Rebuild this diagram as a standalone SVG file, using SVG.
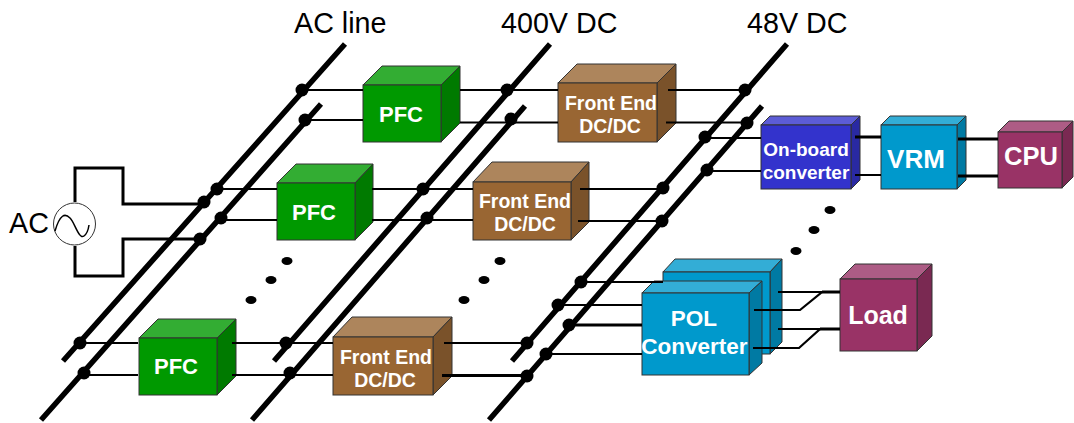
<svg xmlns="http://www.w3.org/2000/svg" width="1074" height="423" viewBox="0 0 1074 423">
<style>
.bus{stroke:#000;stroke-width:5.500;fill:none}
.w{stroke:#000;stroke-width:2.200;fill:none}
.t{stroke:#000;stroke-width:3.200;fill:none}
.s{stroke:#000;stroke-width:3;fill:none}
.box path,.box rect{stroke:#333;stroke-width:1}
.green .f{fill:#009900}.green .u{fill:#33AD33}.green .r{fill:#007A00}
.brown .f{fill:#996633}.brown .u{fill:#AD855C}.brown .r{fill:#7A522A}
.blue .f{fill:#3333CC}.blue .u{fill:#5C5CD6}.blue .r{fill:#2929A3}
.cyan .f{fill:#0099CC}.cyan .u{fill:#33ADD6}.cyan .r{fill:#007AA3}
.plum .f{fill:#993366}.plum .u{fill:#AD5C85}.plum .r{fill:#7A2952}
text{font-family:"Liberation Sans",Arial,sans-serif}
.lab{font-size:28.700px;fill:#000}
.b{font-weight:bold;fill:#fff;text-anchor:middle}
</style>
<rect width="1074" height="423" fill="#fff"/>
<g id="labels">
<text class="lab" x="294" y="33">AC line</text>
<text class="lab" x="501" y="33">400V DC</text>
<text class="lab" x="747" y="33">48V DC</text>
</g>
<g id="nodes">
<g id="pfc1" class="box green"><path class="u" d="M363 85L382 66H460L441 85Z"/><path class="r" d="M441 85L460 66V123L441 142Z"/><rect class="f" x="363" y="85" width="78" height="57"/><text class="b" x="401" y="122" font-size="22">PFC</text></g>
<g id="pfc2" class="box green"><path class="u" d="M277 183L296 164H373L355 183Z"/><path class="r" d="M355 183L373 164V222L355 240Z"/><rect class="f" x="277" y="183" width="78" height="57"/><text class="b" x="314" y="220" font-size="22">PFC</text></g>
<g id="pfc3" class="box green"><path class="u" d="M139 338L158 319H236L217 338Z"/><path class="r" d="M217 338L236 319V376L217 395Z"/><rect class="f" x="139" y="338" width="78" height="57"/><text class="b" x="176" y="374" font-size="22">PFC</text></g>
<g id="fe1" class="box brown"><path class="u" d="M558 83L577 64H676L657 83Z"/><path class="r" d="M657 83L676 64V123L657 142Z"/><rect class="f" x="558" y="83" width="99" height="59"/><text class="b" x="611" y="110" font-size="19.500">Front End</text><text class="b" x="610" y="133" font-size="19.500">DC/DC</text></g>
<g id="fe2" class="box brown"><path class="u" d="M473 182L492 162H589L571 182Z"/><path class="r" d="M571 182L589 162V222L571 240Z"/><rect class="f" x="473" y="182" width="98" height="58"/><text class="b" x="525" y="208" font-size="19.500">Front End</text><text class="b" x="525" y="231" font-size="19.500">DC/DC</text></g>
<g id="fe3" class="box brown"><path class="u" d="M333 337L352 317H452L433 337Z"/><path class="r" d="M433 337L452 317V376L433 395Z"/><rect class="f" x="333" y="337" width="100" height="58"/><text class="b" x="386" y="364" font-size="19.500">Front End</text><text class="b" x="385" y="387" font-size="19.500">DC/DC</text></g>
<g id="onboard" class="box blue"><path class="u" d="M761 125L770 116H860L851 125Z"/><path class="r" d="M851 125L860 116V180L851 189Z"/><rect class="f" x="761" y="125" width="90" height="64"/><text class="b" x="806" y="156" font-size="19">On-board</text><text class="b" x="806" y="179" font-size="19">converter</text></g>
<g id="vrm" class="box cyan"><path class="u" d="M881 125L890 116H966L957 125Z"/><path class="r" d="M957 125L966 116V180L957 189Z"/><rect class="f" x="881" y="125" width="76" height="64"/><text class="b" x="916" y="168" font-size="26">VRM</text></g>
<g id="cpu" class="box plum"><path class="u" d="M998 132L1009 121H1073L1062 132Z"/><path class="r" d="M1062 132L1073 121V177L1062 188Z"/><rect class="f" x="998" y="132" width="64" height="56"/><text class="b" x="1031" y="165" font-size="25.500">CPU</text></g>
<g id="pol-back" class="box cyan"><path class="u" d="M663 272L675 259H782L770 272Z"/><path class="r" d="M770 272L782 259V342L770 354Z"/><rect class="f" x="663" y="272" width="107" height="82"/></g>
<g id="pol" class="box cyan"><path class="u" d="M642 293L654 281H762L749 293Z"/><path class="r" d="M749 293L762 281V363L749 375Z"/><rect class="f" x="642" y="293" width="107" height="82"/><text class="b" x="694" y="326" font-size="22.500">POL</text><text class="b" x="694.500" y="354" font-size="22.500">Converter</text></g>
<g id="load" class="box plum"><path class="u" d="M840 279L855 264H932L917 279Z"/><path class="r" d="M917 279L932 264V336L917 351Z"/><rect class="f" x="840" y="279" width="77" height="72"/><text class="b" x="878" y="324" font-size="25">Load</text></g>
<g id="ac-source"><circle cx="74.500" cy="224" r="21" fill="#fff" stroke="#333" stroke-width="1"/><path d="M55 231C60 214 65 213 70 218S79 240 84 236C86 234.500 88 232 89 225" fill="none" stroke="#000" stroke-width="1.500"/><text class="lab" x="9" y="233">AC</text></g>
</g>
<g id="connectors">
<path class="bus" d="M345 44L63 361M321 104L41 420M550 44L274 361M525 106L252 420M787 44L512 361M762 106L489 420"/>
<path class="s" d="M75 202V168H123V204H204M75 246V276H123V239H200"/>
<path class="w" d="M302 90H363M305 120H363M460 90H558M460 122.500H558M668 90H745M666 122.500H747"/>
<path class="w" d="M217 189H277M372 189H473M580 189H663M578 221H662M221 220H277M372 220H473"/>
<path class="w" d="M80 343H138M232 343H333M444 343H527M84 375H138M232 375H333"/>
<path class="t" d="M442 375.500H527"/>
<path class="w" d="M705 138H761M707 171H761M581 282H663M558 305H642M546 354H642"/>
<path class="t" d="M569 325H642M855 137H881M958 139H998M958 176H998"/>
<path class="w" d="M855 175H881M778 292H822L800 310H754M778 329H820L799 348H753"/>
<path class="t" d="M822 292H840M820 329H840"/>
<g fill="#000">
<circle cx="302" cy="90" r="6.500"/><circle cx="305" cy="120" r="6.500"/><circle cx="507" cy="90" r="6.500"/><circle cx="511" cy="119" r="6.500"/><circle cx="745" cy="90" r="6.500"/><circle cx="747" cy="123" r="6.500"/>
<circle cx="217" cy="189" r="6.500"/><circle cx="204" cy="202" r="6.500"/><circle cx="221" cy="218" r="6.500"/><circle cx="200" cy="239" r="6.500"/><circle cx="423" cy="189" r="6.500"/><circle cx="427" cy="218" r="6.500"/><circle cx="663" cy="188" r="6.500"/><circle cx="662" cy="221" r="6.500"/>
<circle cx="705" cy="137" r="6.500"/><circle cx="707" cy="170" r="6.500"/><circle cx="581" cy="282" r="6.500"/><circle cx="558" cy="305" r="6.500"/><circle cx="569" cy="325" r="6.500"/><circle cx="546" cy="354" r="6.500"/>
<circle cx="80" cy="343" r="6.500"/><circle cx="84" cy="373" r="6.500"/><circle cx="286" cy="343" r="6.500"/><circle cx="290" cy="373" r="6.500"/><circle cx="527" cy="343" r="6.500"/><circle cx="527" cy="376" r="6.500"/>
</g>
</g>
<g id="ellipsis" fill="#000">
<ellipse cx="287" cy="261" rx="5.500" ry="4"/><ellipse cx="271" cy="280" rx="5.500" ry="4"/><ellipse cx="251" cy="300" rx="5.500" ry="4"/>
<ellipse cx="500" cy="261" rx="5.500" ry="4"/><ellipse cx="484" cy="280" rx="5.500" ry="4"/><ellipse cx="464" cy="300" rx="5.500" ry="4"/>
<ellipse cx="830" cy="210" rx="5.500" ry="4"/><ellipse cx="814" cy="230" rx="5.500" ry="4"/><ellipse cx="796" cy="251" rx="5.500" ry="4"/>
</g>
</svg>
